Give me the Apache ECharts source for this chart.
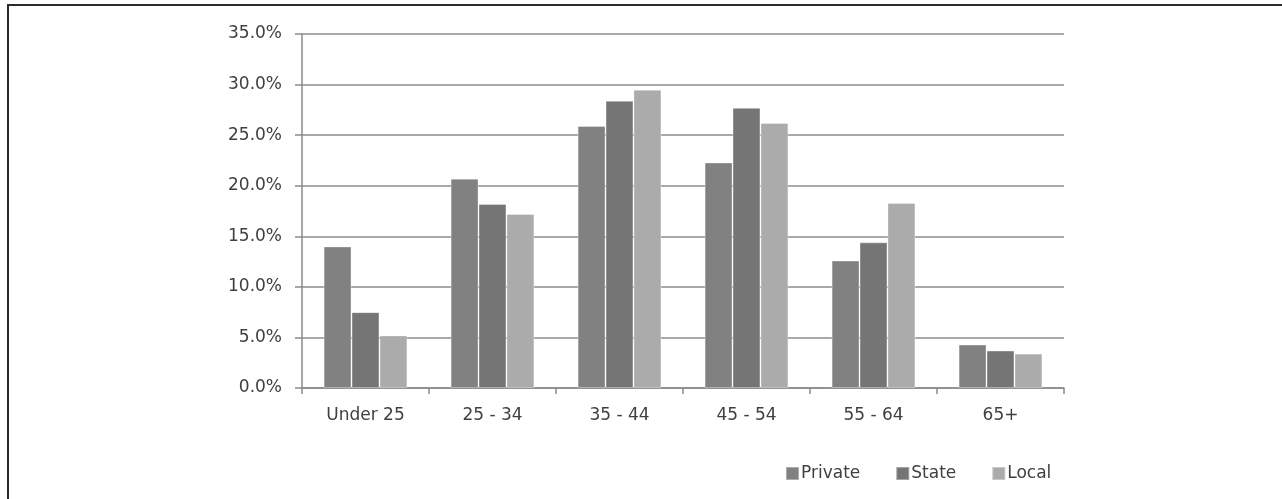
<!DOCTYPE html>
<html>
<head>
    <meta charset="utf-8">
    <title>Chart</title>
    <script src="https://cdn.jsdelivr.net/npm/echarts@6/dist/echarts.min.js"></script>
    <style>
        html, body { margin: 0; padding: 0; background: #fff; }
        #frame {
            position: absolute; left: 7px; top: 4px; right: 0; bottom: 0;
            border-left: 2px solid #2a2a2a; border-top: 2px solid #2a2a2a;
        }
        #main { position: absolute; left: 0; top: 0; width: 1282px; height: 499px; }
    </style>
</head>
<body>
    <div id="frame"></div>
    <div id="main"></div>
    <script type="text/javascript">
        // age bands and shares (percent)
        var categories = ['Under 25', '25 - 34', '35 - 44', '45 - 54', '55 - 64', '65+'];
        var privateData = [14.0, 20.7, 25.9, 22.3, 12.6, 4.3];
        var stateData   = [7.5, 18.2, 28.4, 27.7, 14.4, 3.7];
        var localData   = [5.2, 17.2, 29.5, 26.2, 18.3, 3.4];
        var yTicks = [0, 5, 10, 15, 20, 25, 30, 35];

        var myChart = echarts.init(document.getElementById('main'));
        var txt = '#404040';
        var font = 'DejaVu Sans';

        function bar(name, data, color) {
            return {
                name: name,
                type: 'bar',
                data: data,
                barGap: '0%',
                barCategoryGap: '34%',
                itemStyle: { color: color, borderColor: 'rgba(255,255,255,0.35)', borderWidth: 1 }
            };
        }

        var option = {
            animation: false,
            textStyle: { fontFamily: font },
            legend: {
                bottom: 17,
                left: 785,
                padding: 0,
                itemWidth: 13,
                itemHeight: 13,
                itemGap: 35,
                icon: 'rect',
                textStyle: { color: txt, fontSize: 17, fontFamily: font, padding: [0, 0, 0, -3] },
                data: ['Private', 'State', 'Local']
            },
            grid: { left: 302, right: 218, top: 34, bottom: 111 },
            xAxis: {
                type: 'category',
                data: categories,
                axisLine: { lineStyle: { color: '#8a8a8a', width: 1.5 } },
                axisTick: { show: true, length: 6, inside: false, lineStyle: { color: '#8a8a8a', width: 1.5 } },
                axisLabel: { color: txt, fontSize: 17, fontFamily: font, margin: 19 }
            },
            yAxis: {
                type: 'value',
                min: yTicks[0],
                max: yTicks[yTicks.length - 1],
                interval: 5,
                axisLine: { show: true, lineStyle: { color: '#8a8a8a', width: 1.5 } },
                axisTick: { show: true, length: 7, lineStyle: { color: '#8a8a8a', width: 1.5 } },
                splitLine: { lineStyle: { color: '#8c8c8c', width: 1.5 } },
                axisLabel: {
                    color: txt, fontSize: 17, fontFamily: font, margin: 20,
                    formatter: function (v) { return v.toFixed(1) + '%'; }
                }
            },
            series: [
                bar('Private', privateData, '#818181'),
                bar('State', stateData, '#757575'),
                bar('Local', localData, '#ababab')
            ]
        };
        myChart.setOption(option);
    </script>
</body>
</html>
